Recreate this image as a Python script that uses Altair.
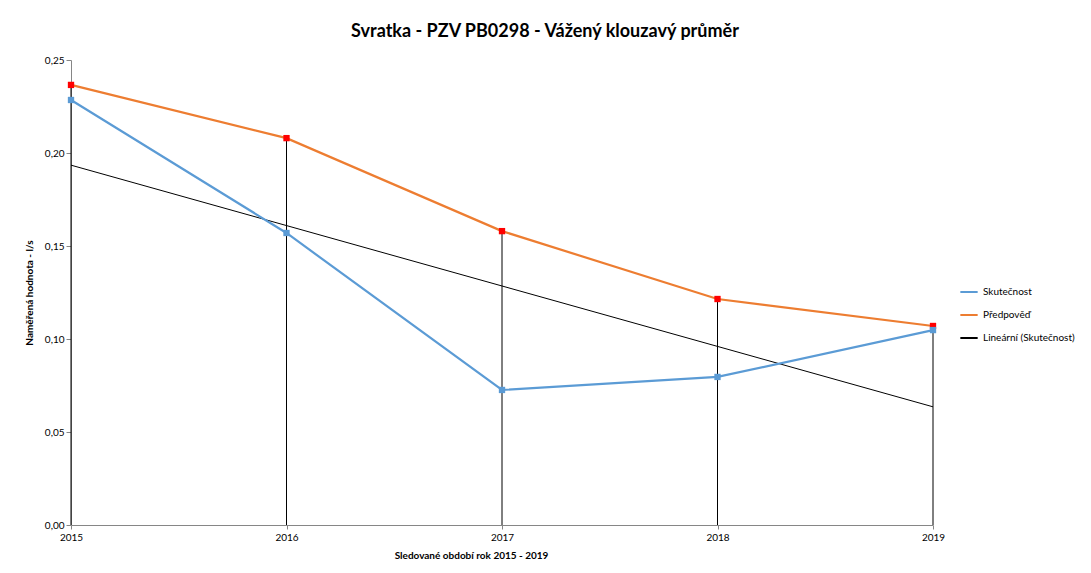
import altair as alt
import pandas as pd

years = [2015, 2016, 2017, 2018, 2019]
actual = [0.2285, 0.157, 0.0726, 0.0796, 0.1048]
forecast = [0.2366, 0.208, 0.158, 0.1215, 0.107]
series_names = ["Skutečnost", "Předpověď", "Lineární (Skutečnost)"]
series_colors = ["#5B9BD5", "#ED7D31", "#000000"]

df_act = pd.DataFrame({"year": years, "value": actual, "series": series_names[0]})
df_fc = pd.DataFrame({"year": years, "value": forecast, "series": series_names[1]})

FONT = "Lato"

x = alt.X("year:Q", scale=alt.Scale(domain=[2015, 2019], nice=False, zero=False),
          axis=alt.Axis(values=years, format="d", title="Sledované období rok 2015 - 2019",
                        grid=False, domainColor="#868686", tickColor="#868686",
                        labelFontSize=10, titleFontSize=10, titleFontWeight="bold",
                        labelColor="#000", titleColor="#000", titlePadding=8, tickSize=4,
                        labelPadding=3, labelFlush=False, titleX=400))
y = alt.Y("value:Q", scale=alt.Scale(domain=[0, 0.25], nice=False),
          axis=alt.Axis(values=[0, 0.05, 0.10, 0.15, 0.20, 0.25],
                        labelExpr="replace(format(datum.value, '.2f'), '.', ',')",
                        title="Naměřená hodnota - l/s", grid=False,
                        domainColor="#868686", tickColor="#868686", tickSize=5,
                        labelFontSize=10, titleFontSize=10, titleFontWeight="bold",
                        labelColor="#000", titleColor="#000", titlePadding=10))

color = alt.Color("series:N", scale=alt.Scale(domain=series_names, range=series_colors),
                  legend=alt.Legend(title=None, orient="none", legendX=888, legendY=222,
                                    symbolType="stroke", symbolStrokeWidth=2, symbolSize=300,
                                    labelFontSize=10, labelColor="#000", rowPadding=8,
                                    labelFont=FONT))

drops = alt.Chart(df_fc).mark_rule(color="#000", strokeWidth=1).encode(
    x=x, y=alt.Y("value:Q"), y2=alt.datum(0))

trend = alt.Chart(df_act).transform_regression("year", "value", method="linear").transform_calculate(
    series="'Lineární (Skutečnost)'").mark_line(strokeWidth=1).encode(x=x, y=y, color=color)

fc_line = alt.Chart(df_fc).mark_line(strokeWidth=2.2).encode(x=x, y=y, color=color)
fc_pts = alt.Chart(df_fc).mark_point(shape="square", filled=True, size=40, color="#FF0000", opacity=1).encode(x=x, y=y)

act_line = alt.Chart(df_act).mark_line(strokeWidth=2.2).encode(x=x, y=y, color=color)
act_pts = alt.Chart(df_act).mark_point(shape="square", filled=True, size=40, color="#5B9BD5", opacity=1).encode(x=x, y=y)

chart = alt.layer(drops, trend, fc_line, act_line, fc_pts, act_pts).properties(
    width=862, height=465,
    background="white",
    title=alt.TitleParams("Svratka - PZV PB0298 - Vážený klouzavý průměr", fontSize=18,
                          fontWeight="bold", font=FONT, color="#000", anchor="middle",
                          dx=43, offset=14),
    padding={"left": 16, "top": 15, "right": 5, "bottom": 5},
).configure_view(stroke=None, strokeWidth=0).configure_axis(labelFont=FONT, titleFont=FONT)

chart.save("out.html", embed_options={"renderer": "svg", "actions": False})
